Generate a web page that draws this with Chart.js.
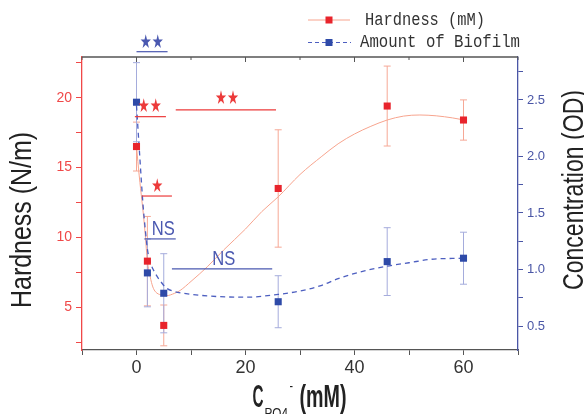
<!DOCTYPE html>
<html><head><meta charset="utf-8">
<script src="https://cdn.jsdelivr.net/npm/chart.js@4.4.0/dist/chart.umd.min.js"></script>
<style>html,body{margin:0;padding:0;background:#fff;}#wrap{width:584px;height:414px;}</style>
</head><body><div id="wrap"><canvas id="c" width="584" height="414"></canvas></div>
<script>
// ---- data ----
const concentration = [0, 2, 5, 26, 46, 60];
const hardness      = [16.5, 8.3, 3.7, 13.5, 19.4, 18.4];
const hardnessErr   = [1.75, 3.2, 1.46, 4.2, 2.86, 1.44];
const biofilm       = [2.48, 0.97, 0.79, 0.715, 1.07, 1.10];
const biofilmErr    = [0.35, 0.30, 0.35, 0.23, 0.30, 0.23];

// fitted curves
const hardFitX = [0, 0.5, 1, 1.3, 1.6, 2, 2.5, 3, 3.5, 4.5, 5.5, 7, 8, 10, 13, 16, 20, 23, 26, 30, 34, 37, 40, 43, 46, 49, 52, 55, 58, 60];
const hardFitY = [16.5, 14.4, 12.6, 11.5, 10.2, 8.3, 7.2, 6.45, 6.1, 5.88, 5.83, 6.0, 6.2, 6.85, 7.9, 9.1, 10.6, 11.85, 12.9, 14.5, 15.8, 16.7, 17.4, 17.95, 18.4, 18.68, 18.76, 18.7, 18.55, 18.41];
const bioFitX  = [0, 0.6, 1.2, 1.6, 2, 2.5, 3.4, 4.5, 5.5, 7, 8.6, 13.4, 20, 26, 30, 34, 37, 42, 46, 50, 54, 60];
const bioFitY  = [2.45, 2.0, 1.57, 1.36, 1.18, 1.07, 0.97, 0.89, 0.835, 0.805, 0.79, 0.765, 0.755, 0.78, 0.81, 0.86, 0.92, 0.99, 1.03, 1.06, 1.09, 1.10];

const xTickLabels = [0, 20, 40, 60];
const hardTickLabels = [5, 10, 15, 20];
const odTickLabels = [0.5, 1.0, 1.5, 2.0, 2.5];

const legendLabels = ['Hardness (mM)', 'Amount of Biofilm'];

// significance marks (in data units: x range on concentration, y on hardness axis)
const marks = [
  {text:'★★', c:'blue', x1:0,    x2:5.7,  y:23.29, tx:2.8,  ty:23.94},
  {text:'★★', c:'red',  x1:-0.3, x2:5.4,  y:18.64, tx:2.45, ty:19.33},
  {text:'★★', c:'red',  x1:7.2,  x2:25.6, y:19.12, tx:16.6, ty:19.93},
  {text:'★',  c:'red',  x1:1.0,  x2:6.5,  y:12.96, tx:3.8,  ty:13.63},
  {text:'NS', c:'blue', x1:1.5,  x2:7.2,  y:9.89,  tx:4.9,  ty:10.58},
  {text:'NS', c:'blue', x1:6.5,  x2:24.9, y:7.74,  tx:16.0, ty:8.45}
];

// ---- styles ----
const RED = '#e8242c', SALMON = '#f7a48e', RED_ERR = '#f6a896', RED_AX = '#f04848';
const BLUE = '#2e4aa8', BLUE_LINE = '#4d5fc0', BLUE_ERR = '#a5acdc', BLUE_AX = '#4a56a6';
const MARK_RED = '#ec3a3a', MARK_BLUE = '#4a58b0';

function fitText(ctx, text, x, y, font, width, rot, align, baseline, color) {
  ctx.save();
  ctx.translate(x, y);
  ctx.rotate(rot || 0);
  ctx.font = font;
  const w = ctx.measureText(text).width;
  ctx.scale(width / w, 1);
  ctx.textAlign = align || 'center';
  ctx.textBaseline = baseline || 'middle';
  ctx.fillStyle = color;
  ctx.fillText(text, 0, 0);
  ctx.restore();
}

const deco = {
  id: 'deco',
  beforeDatasetsDraw(chart) {
    const ctx = chart.ctx, X = chart.scales.x, YL = chart.scales.yL, YR = chart.scales.yR;
    ctx.save();
    ctx.lineWidth = 1;
    const bar = (px, a, b, col) => {
      ctx.strokeStyle = col;
      ctx.beginPath();
      ctx.moveTo(px, a); ctx.lineTo(px, b);
      ctx.moveTo(px - 3.5, a); ctx.lineTo(px + 3.5, a);
      ctx.moveTo(px - 3.5, b); ctx.lineTo(px + 3.5, b);
      ctx.stroke();
    };
    for (let i = 0; i < concentration.length; i++) {
      const px = X.getPixelForValue(concentration[i]);
      bar(px, YL.getPixelForValue(hardness[i] + hardnessErr[i]), YL.getPixelForValue(hardness[i] - hardnessErr[i]), RED_ERR);
      bar(px, YR.getPixelForValue(biofilm[i] + biofilmErr[i]), YR.getPixelForValue(biofilm[i] - biofilmErr[i]), BLUE_ERR);
    }
    ctx.restore();
  },
  afterDraw(chart) {
    const ctx = chart.ctx, X = chart.scales.x, YL = chart.scales.yL, a = chart.chartArea;
    ctx.save();
    // top axis
    ctx.strokeStyle = '#555'; ctx.lineWidth = 1.3;
    ctx.beginPath(); ctx.moveTo(a.left, a.top); ctx.lineTo(a.right, a.top); ctx.stroke();
    ctx.lineWidth = 1;
    X.ticks.forEach(t => {
      const px = X.getPixelForValue(t.value);
      ctx.beginPath(); ctx.moveTo(px, a.top); ctx.lineTo(px, a.top + (t.value % 20 === 0 ? 5 : 3)); ctx.stroke();
    });
    // significance marks
    marks.forEach(m => {
      const col = m.c === 'red' ? MARK_RED : MARK_BLUE;
      ctx.strokeStyle = col; ctx.lineWidth = 1.2;
      const yy = YL.getPixelForValue(m.y);
      ctx.beginPath(); ctx.moveTo(X.getPixelForValue(m.x1), yy); ctx.lineTo(X.getPixelForValue(m.x2), yy); ctx.stroke();
      if (m.text === 'NS') {
        fitText(ctx, m.text, X.getPixelForValue(m.tx), YL.getPixelForValue(m.ty), '21px "Liberation Sans"', 23, 0, 'center', 'middle', col);
      } else {
        fitText(ctx, m.text, X.getPixelForValue(m.tx), YL.getPixelForValue(m.ty), '19px "DejaVu Sans"', m.text.length * 12, 0, 'center', 'middle', col);
      }
    });
    // legend
    ctx.lineWidth = 1;
    ctx.strokeStyle = SALMON; ctx.setLineDash([]);
    ctx.beginPath(); ctx.moveTo(308, 20); ctx.lineTo(350, 20); ctx.stroke();
    ctx.fillStyle = RED; ctx.fillRect(325.5, 16.5, 7, 7);
    ctx.strokeStyle = BLUE_LINE; ctx.setLineDash([4, 3]);
    ctx.beginPath(); ctx.moveTo(308, 42.5); ctx.lineTo(351, 42.5); ctx.stroke();
    ctx.setLineDash([]);
    ctx.fillStyle = BLUE; ctx.fillRect(325.5, 39, 7, 7);
    fitText(ctx, legendLabels[0], 365, 20, '18px "Liberation Mono"', 120, 0, 'left', 'middle', '#333');
    fitText(ctx, legendLabels[1], 360, 42.5, '18px "Liberation Mono"', 160, 0, 'left', 'middle', '#333');
    // axis titles
    fitText(ctx, 'Hardness (N/m)', 31, 220, '29px "Liberation Sans"', 176, -Math.PI / 2, 'center', 'alphabetic', '#222');
    fitText(ctx, 'Concentration (OD)', 583, 190, '29px "Liberation Sans"', 200, -Math.PI / 2, 'center', 'alphabetic', '#222');
    fitText(ctx, 'C', 252.5, 406.5, 'bold 31px "Liberation Sans"', 11, 0, 'left', 'alphabetic', '#222');
    fitText(ctx, 'PO4', 264.5, 418, '14px "Liberation Sans"', 23.5, 0, 'left', 'alphabetic', '#222');
    fitText(ctx, '-', 289.5, 391, '14px "Liberation Sans"', 3.5, 0, 'left', 'alphabetic', '#222');
    fitText(ctx, '(mM)', 299.5, 406.5, 'bold 31px "Liberation Sans"', 47, 0, 'left', 'alphabetic', '#222');
    ctx.restore();
  }
};

const pts = (xs, ys) => xs.map((x, i) => ({x: x, y: ys[i]}));

new Chart(document.getElementById('c'), {
  type: 'scatter',
  data: {
    datasets: [
      {label: 'hardFit', data: pts(hardFitX, hardFitY), yAxisID: 'yL', showLine: true, borderColor: SALMON, borderWidth: 1, pointRadius: 0, cubicInterpolationMode: 'monotone', order: 3},
      {label: 'bioFit', data: pts(bioFitX, bioFitY), yAxisID: 'yR', showLine: true, borderColor: BLUE_LINE, borderWidth: 1.3, borderDash: [5, 4], pointRadius: 0, cubicInterpolationMode: 'monotone', order: 2},
      {label: legendLabels[0], data: pts(concentration, hardness), yAxisID: 'yL', pointStyle: 'rect', pointRadius: 5, pointBackgroundColor: RED, pointBorderColor: RED, pointBorderWidth: 0, order: 1},
      {label: legendLabels[1], data: pts(concentration, biofilm), yAxisID: 'yR', pointStyle: 'rect', pointRadius: 5, pointBackgroundColor: BLUE, pointBorderColor: BLUE, pointBorderWidth: 0, order: 0}
    ]
  },
  options: {
    responsive: false,
    animation: false,
    layout: {padding: {top: 57, left: 0, right: 0, bottom: 0}},
    plugins: {legend: {display: false}, tooltip: {enabled: false}},
    scales: {
      x: {
        type: 'linear', position: 'bottom', min: -10, max: 70,
        afterFit: s => { s.height = 64; },
        border: {color: '#555', width: 1.3},
        grid: {drawOnChartArea: false, drawTicks: true, tickLength: 5, tickColor: '#555'},
        ticks: {stepSize: 10, includeBounds: false, padding: 2, color: '#333', font: {family: '"Liberation Sans"', size: 18},
          callback: v => xTickLabels.includes(v) ? String(v) : ''}
      },
      yL: {
        type: 'linear', position: 'left', min: 1.94, max: 22.91,
        afterFit: s => { s.width = 82; },
        border: {color: RED_AX, width: 1.3},
        grid: {drawOnChartArea: false, drawTicks: true, tickLength: 6, tickColor: RED_AX},
        ticks: {stepSize: 2.5, includeBounds: false, padding: 4, color: RED_AX, font: {family: '"Liberation Sans"', size: 14},
          callback: v => hardTickLabels.includes(v) ? String(v) : ''}
      },
      yR: {
        type: 'linear', position: 'right', min: 0.288, max: 2.88,
        afterFit: s => { s.width = 66; },
        border: {color: BLUE_AX, width: 1.3},
        grid: {drawOnChartArea: false, drawTicks: true, tickLength: 5, tickColor: BLUE_AX},
        ticks: {stepSize: 0.25, includeBounds: false, padding: 4, color: BLUE_AX, font: {family: '"Liberation Sans"', size: 13},
          callback: v => odTickLabels.some(t => Math.abs(t - v) < 1e-6) ? v.toFixed(1) : ''}
      }
    }
  },
  plugins: [deco]
});
</script></body></html>
